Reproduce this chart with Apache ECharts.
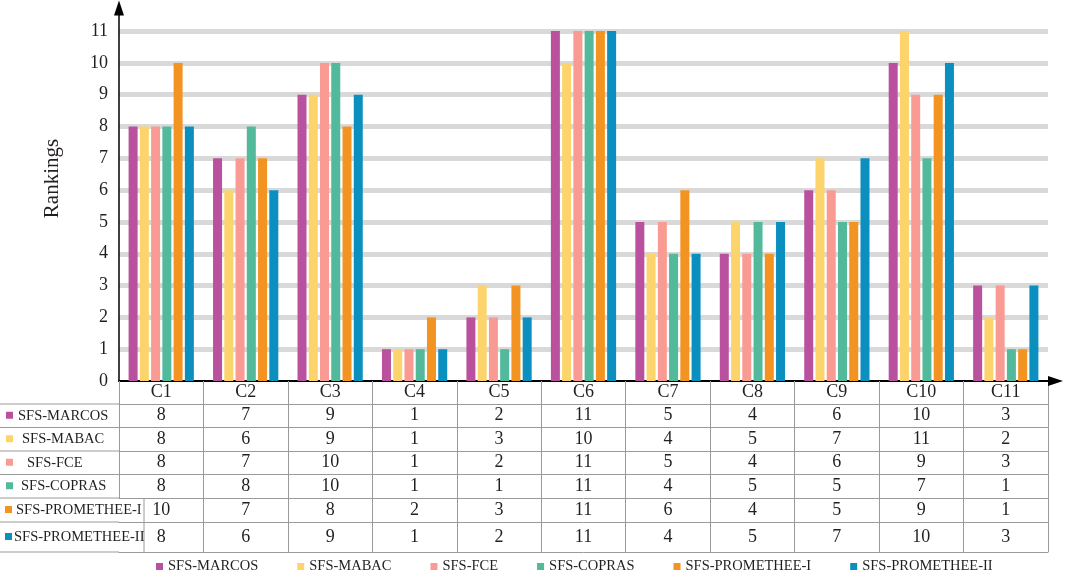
<!DOCTYPE html>
<html>
<head>
<meta charset="utf-8">
<script src="https://cdn.jsdelivr.net/npm/echarts@6/dist/echarts.min.js"></script>
<style>
  html, body { margin: 0; padding: 0; background: #fff; }
  #main { width: 1065px; height: 571px; }
</style>
</head>
<body>
<div id="main"></div>
<script>
var categories = ["C1", "C2", "C3", "C4", "C5", "C6", "C7", "C8", "C9", "C10", "C11"];
var methods = ["SFS-MARCOS", "SFS-MABAC", "SFS-FCE", "SFS-COPRAS", "SFS-PROMETHEE-I", "SFS-PROMETHEE-II"];
var marcos = [8, 7, 9, 1, 2, 11, 5, 4, 6, 10, 3];
var mabac = [8, 6, 9, 1, 3, 10, 4, 5, 7, 11, 2];
var fce = [8, 7, 10, 1, 2, 11, 5, 4, 6, 9, 3];
var copras = [8, 8, 10, 1, 1, 11, 4, 5, 5, 7, 1];
var prometheeI = [10, 7, 8, 2, 3, 11, 6, 4, 5, 9, 1];
var prometheeII = [8, 6, 9, 1, 2, 11, 4, 5, 7, 10, 3];
var rankTicks = [0, 11];

var rows = [marcos, mabac, fce, copras, prometheeI, prometheeII];
var colors = ["#b9519f", "#fdd46b", "#f99b92", "#52b99a", "#f39321", "#0a8fbf"];

// table layout (pixels)
var axisY = 381;
var rowLines = [404, 427.5, 451, 474.5, 498, 522, 552];
var labelX = [18, 22, 27, 21, 16, 14];
var iconX = [6, 6, 6, 6, 5, 5];
var font = "Liberation Serif";
var ink = "#231f20";
var lineGrey = "#9a9a9a";

var chart = echarts.init(document.getElementById("main"));

var xAxes = [{
  type: "category",
  data: categories,
  axisLine: { onZero: false, symbol: ["none", "triangle"], symbolSize: [10, 15], symbolOffset: [0, 7.5],
    lineStyle: { color: "#000", width: 2 } },
  axisTick: { show: true, interval: 0, length: rowLines[0] - axisY, lineStyle: { color: lineGrey } },
  axisLabel: { interval: 0, margin: (rowLines[0] - axisY) / 2, verticalAlign: "middle",
    fontFamily: font, fontSize: 18, color: ink },
  splitLine: { show: false }
}];

rows.forEach(function (row, k) {
  var h = rowLines[k + 1] - rowLines[k];
  xAxes.push({
    type: "category",
    data: categories,
    position: "bottom",
    offset: rowLines[k] - axisY,
    axisLine: { onZero: false, lineStyle: { color: lineGrey, width: 1 } },
    axisTick: {
      show: true, length: h, lineStyle: { color: lineGrey },
      interval: k >= 4 ? function (i) { return i > 0; } : 0
    },
    axisLabel: {
      interval: 0, margin: h / 2, verticalAlign: "middle",
      fontFamily: font, fontSize: 18, color: ink,
      formatter: function (v, i) { return String(row[i]); }
    },
    splitLine: { show: false }
  });
});

xAxes.push({
  type: "category",
  data: categories,
  position: "bottom",
  offset: rowLines[6] - axisY,
  axisLine: { onZero: false, lineStyle: { color: lineGrey, width: 1 } },
  axisTick: { show: false },
  axisLabel: { show: false },
  splitLine: { show: false }
});

// left label column of the table
var graphics = [];
rowLines.forEach(function (y) {
  graphics.push({ type: "line", shape: { x1: 0, y1: y, x2: 119, y2: y },
    style: { stroke: lineGrey, lineWidth: 1 } });
});
graphics.push({ type: "line", shape: { x1: 144, y1: rowLines[4], x2: 144, y2: rowLines[6] },
  style: { stroke: lineGrey, lineWidth: 1 } });
methods.forEach(function (name, k) {
  var cy = (rowLines[k] + rowLines[k + 1]) / 2;
  graphics.push({ type: "rect", shape: { x: iconX[k], y: cy - 4, width: 7, height: 7 },
    style: { fill: colors[k] } });
  graphics.push({ type: "text", x: labelX[k], y: cy,
    style: { text: name, fontFamily: font, fontSize: 14.5, fill: ink, verticalAlign: "middle" } });
});

var option = {
  animation: false,
  color: colors,
  grid: { left: 119, right: 17, top: 12, bottom: 571 - axisY },
  legend: {
    data: methods,
    left: 151,
    top: 554,
    icon: "rect",
    itemWidth: 7,
    itemHeight: 7,
    itemGap: 39,
    textStyle: { fontFamily: font, fontSize: 14.5, color: ink }
  },
  xAxis: xAxes,
  yAxis: {
    type: "value",
    min: rankTicks[0],
    max: 11.6,
    interval: 1,
    name: "Rankings",
    nameLocation: "middle",
    nameRotate: 90,
    nameGap: 56,
    nameTextStyle: { fontFamily: font, fontSize: 21, color: ink, padding: [0, 0, 0, 36] },
    axisLine: { show: true, symbol: ["none", "triangle"], symbolSize: [10, 15], symbolOffset: [0, 4],
      lineStyle: { color: "#000", width: 1.5 } },
    axisTick: { show: false },
    axisLabel: {
      showMaxLabel: false, margin: 11, fontFamily: font, fontSize: 18, color: ink,
      formatter: function (v) { return v <= rankTicks[1] && Number.isInteger(v) ? String(v) : ""; }
    },
    splitLine: { showMinLine: false, showMaxLine: false, lineStyle: { color: "#d9d9d9", width: 5 } }
  },
  graphic: graphics,
  series: rows.map(function (row, k) {
    return {
      name: methods[k],
      type: "bar",
      xAxisIndex: 0,
      data: row,
      barWidth: 9,
      barGap: "25%"
    };
  })
};

chart.setOption(option);
</script>
</body>
</html>
